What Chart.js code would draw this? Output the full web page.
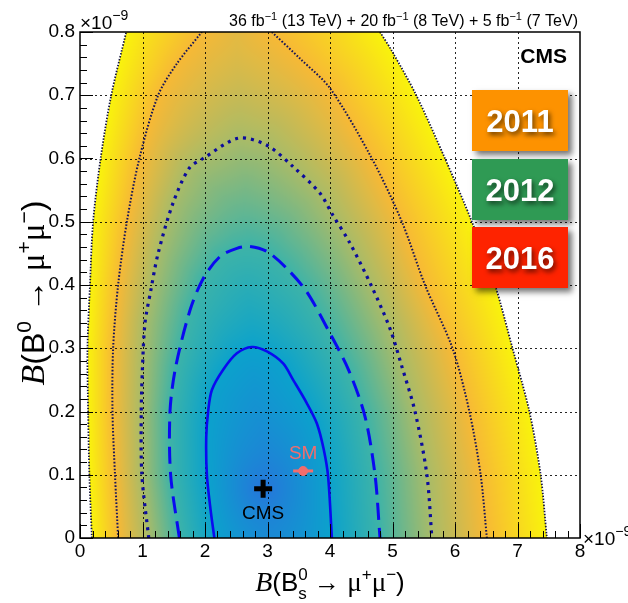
<!DOCTYPE html>
<html>
<head>
<meta charset="utf-8">
<script src="https://cdn.jsdelivr.net/npm/chart.js@4.4.1/dist/chart.umd.min.js"></script>
<style>
  html, body { margin: 0; padding: 0; background: #fff; }
</style>
</head>
<body>
<canvas id="chart" width="628" height="603"></canvas>
<script>
// Axis ticks (values in units of 1e-9)
const xTickVals = [0, 1, 2, 3, 4, 5, 6, 7, 8];
const xTickLabels = ['0', '1', '2', '3', '4', '5', '6', '7', '8'];
const yTickVals = [0, 0.1, 0.2, 0.3, 0.4, 0.5, 0.6, 0.7, 0.8];
const yTickLabels = ['0', '0.1', '0.2', '0.3', '0.4', '0.5', '0.6', '0.7', '0.8'];

// Likelihood contours, [B(Bs->mumu), B(B0->mumu)]
const solid = [[2.15,0],[2.09,0.044],[2.03,0.1],[2.02,0.16],[2.05,0.2],[2.11,0.234],[2.29,0.266],[2.51,0.292],[2.75,0.302],[2.99,0.295],[3.25,0.276],[3.41,0.25],[3.63,0.213],[3.79,0.181],[3.9,0.14],[3.97,0.097],[4.03,0]];
const dashed = [[1.59,0],[1.45,0.1],[1.44,0.2],[1.53,0.27],[1.76,0.36],[1.97,0.41],[2.24,0.445],[2.51,0.458],[2.72,0.461],[2.99,0.453],[3.31,0.426],[3.63,0.389],[3.97,0.329],[4.3,0.265],[4.56,0.192],[4.72,0.1],[4.8,0]];
const dotted = [[1.1,0],[0.99,0.1],[0.98,0.2],[1.0,0.27],[1.04,0.34],[1.13,0.39],[1.25,0.45],[1.49,0.53],[1.75,0.585],[1.97,0.6],[2.53,0.632],[2.99,0.621],[3.41,0.587],[3.84,0.545],[4.03,0.513],[4.32,0.466],[4.67,0.397],[4.96,0.331],[5.15,0.271],[5.36,0.2],[5.55,0.1],[5.63,0]];
const fineLeft = [[0.61,0],[0.56,0.1],[0.52,0.2],[0.53,0.3],[0.61,0.4],[0.75,0.5],[0.95,0.6],[1.25,0.7],[1.55,0.75],[1.95,0.8]];
const fineRight = [[3.07,0.8],[3.52,0.758],[4.0,0.711],[4.67,0.6],[5.15,0.5],[5.52,0.4],[5.96,0.3],[6.23,0.2],[6.41,0.1],[6.51,0]];
const edgeLeft = [[0.19,0],[0.15,0.1],[0.13,0.2],[0.12,0.3],[0.16,0.4],[0.21,0.5],[0.33,0.6],[0.5,0.7],[0.74,0.8]];
const edgeRight = [[4.8,0.8],[4.99,0.77],[5.38,0.7],[5.84,0.6],[6.27,0.5],[6.64,0.4],[6.92,0.3],[7.19,0.2],[7.37,0.1],[7.47,0]];

// Best fit and Standard Model point
const cmsX = [2.93], cmsY = [0.078];
const smX = [3.57], smY = [0.106], smXErr = [0.16], smYErr = [0.006];

// colour at the minimum, then at each contour going outwards
const levelColors = ['#2675db', '#0ba2cc', '#3db3a8', '#a8bb68', '#f7b935', '#f9f30c'];

const contours = [[solid], [dashed], [dotted], [fineLeft, fineRight], [edgeLeft, edgeRight]];

function segDist(px, py, ax, ay, bx, by) {
    const dx = bx - ax, dy = by - ay;
    let t = ((px - ax) * dx + (py - ay) * dy) / (dx * dx + dy * dy);
    t = Math.max(0, Math.min(1, t));
    const ex = ax + t * dx - px, ey = ay + t * dy - py;
    return Math.sqrt(ex * ex + ey * ey);
}
function lineDist(branches, px, py) {
    let m = 1e9;
    branches.forEach(b => {
        for (let i = 1; i < b.length; i++) m = Math.min(m, segDist(px, py, b[i-1][0], b[i-1][1], b[i][0], b[i][1]));
    });
    return m;
}
function inside(poly, px, py) {
    let c = false;
    for (let i = 0, j = poly.length - 1; i < poly.length; j = i++) {
        const [xi, yi] = poly[i], [xj, yj] = poly[j];
        if ((yi > py) !== (yj > py) && px < (xj - xi) * (py - yi) / (yj - yi) + xi) c = !c;
    }
    return c;
}

// Colour map filling the region between the contours
const heatmap = {
    id: 'heatmap',
    beforeDatasetsDraw(chart) {
        const { ctx, chartArea: a, scales: { x, y } } = chart;
        const toPx = p => [x.getPixelForValue(p[0]), y.getPixelForValue(p[1])];
        const rings = contours.map(c => c.map(b => b.map(toPx)));
        const polys = rings.map(r => [].concat(...r));
        const c0 = toPx([cmsX[0], cmsY[0]]);
        const cols = levelColors.map(h => [1, 3, 5].map(i => parseInt(h.substr(i, 2), 16)));
        const w = Math.round(a.right - a.left), h = Math.round(a.bottom - a.top);
        const off = document.createElement('canvas');
        off.width = w; off.height = h;
        const octx = off.getContext('2d');
        const img = octx.createImageData(w, h);
        for (let j = 0; j < h; j++) {
            for (let i = 0; i < w; i++) {
                const X = a.left + i + 0.5, Y = a.top + j + 0.5;
                let k = 0;
                while (k < polys.length && !inside(polys[k], X, Y)) k++;
                if (k === polys.length) continue;
                let lev;
                const dIn = lineDist(rings[k], X, Y);
                if (k === 0) {
                    const dc = Math.hypot(X - c0[0], Y - c0[1]);
                    lev = dc / (dc + dIn);
                } else {
                    const dOut = lineDist(rings[k-1], X, Y);
                    lev = k + dOut / (dOut + dIn);
                }
                const f = Math.floor(Math.min(lev, 4.999)), t = lev - f;
                const o = (j * w + i) * 4;
                for (let ch = 0; ch < 3; ch++) img.data[o + ch] = cols[f][ch] + (cols[f+1][ch] - cols[f][ch]) * t;
                img.data[o + 3] = 255;
            }
        }
        octx.putImageData(img, 0, 0);
        ctx.drawImage(off, a.left, a.top);

        // dotted grid
        ctx.save();
        ctx.strokeStyle = 'rgba(0,0,0,0.85)';
        ctx.lineWidth = 1;
        ctx.setLineDash([2, 3]);
        ctx.beginPath();
        xTickVals.slice(1, -1).forEach(v => {
            const p = Math.round(x.getPixelForValue(v)) + 0.5;
            ctx.moveTo(p, a.top); ctx.lineTo(p, a.bottom);
        });
        yTickVals.slice(1, -1).forEach(v => {
            const p = Math.round(y.getPixelForValue(v)) + 0.5;
            ctx.moveTo(a.left, p); ctx.lineTo(a.right, p);
        });
        ctx.stroke();
        ctx.restore();
    }
};

function rich(ctx, parts, x, y, align) {
    let w = 0;
    parts.forEach(p => { ctx.font = p[1]; p.w = p[3] ? 0 : ctx.measureText(p[0]).width; w += p.w; });
    let cx = align === 'right' ? x - w : align === 'center' ? x - w / 2 : x;
    parts.forEach(p => { ctx.font = p[1]; ctx.fillText(p[0], cx, y + (p[2] || 0)); cx += p.w; });
}

const SANS = '"Liberation Sans", Arial, sans-serif';
const SERIF = '"Liberation Serif", "Times New Roman", serif';

function axisTitle(sub, size) {
    const s = size, ss = Math.round(size * 0.65), up = -Math.round(size * 0.42);
    const parts = [['B', 'italic ' + (s + 2) + 'px ' + SERIF], ['(B', s + 'px ' + SANS]];
    if (sub) {
        parts.push(['0', ss + 'px ' + SANS, up, true], ['s', ss + 'px ' + SANS, Math.round(size * 0.3)]);
    } else {
        parts.push(['0', ss + 'px ' + SANS, up]);
    }
    parts.push([' \u2192 ', s + 'px ' + SANS], ['\u03bc', (s + 1) + 'px ' + SERIF], ['+', ss + 'px ' + SANS, up],
               ['\u03bc', (s + 1) + 'px ' + SERIF], ['\u2212', ss + 'px ' + SANS, up], [')', s + 'px ' + SANS]);
    return parts;
}

// Frame, inward ticks, labels and the year boxes
const decorations = {
    id: 'decorations',
    afterDraw(chart) {
        const { ctx, chartArea: a, scales: { x, y } } = chart;
        ctx.save();
        ctx.strokeStyle = '#000';
        ctx.lineWidth = 1.5;
        ctx.strokeRect(a.left, a.top, a.right - a.left, a.bottom - a.top);
        ctx.lineWidth = 1;
        ctx.beginPath();
        for (let v = 0; v <= 8.001; v += 0.2) {
            const p = Math.round(x.getPixelForValue(v)) + 0.5;
            const major = Math.abs(v - Math.round(v)) < 1e-6;
            ctx.moveTo(p, a.bottom); ctx.lineTo(p, a.bottom - (major ? 14 : 7));
        }
        for (let v = 0; v <= 0.8001; v += 0.02) {
            const p = Math.round(y.getPixelForValue(v)) + 0.5;
            const major = Math.abs(v * 10 - Math.round(v * 10)) < 1e-6;
            ctx.moveTo(a.left, p); ctx.lineTo(a.left + (major ? 13 : 7), p);
        }
        ctx.stroke();

        ctx.fillStyle = '#000';
        ctx.textBaseline = 'alphabetic';
        // exponents
        rich(ctx, [['\u00d710', '19px ' + SANS], ['\u22129', '14px ' + SANS, -9]], a.left, 29, 'left');
        rich(ctx, [['\u00d710', '19px ' + SANS], ['\u22129', '14px ' + SANS, -9]], a.right + 3, a.bottom + 7, 'left');
        // luminosity
        const sup = ['\u22121', '11px ' + SANS, -6];
        rich(ctx, [['36 fb', '16px ' + SANS], sup, [' (13 TeV) + 20 fb', '16px ' + SANS], sup.slice(),
                   [' (8 TeV) + 5 fb', '16px ' + SANS], sup.slice(), [' (7 TeV)', '16px ' + SANS]], a.right - 2, 26, 'right');
        // CMS label
        ctx.font = 'bold 21px ' + SANS;
        ctx.textAlign = 'right';
        ctx.fillText('CMS', 567, 63);
        ctx.textAlign = 'left';
        // axis titles
        rich(ctx, axisTitle(true, 26), (a.left + a.right) / 2, 591, 'center');
        ctx.save();
        ctx.translate(44, 293);
        ctx.rotate(-Math.PI / 2);
        rich(ctx, axisTitle(false, 32), 0, 0, 'center');
        ctx.restore();
        // point labels
        ctx.textAlign = 'center';
        ctx.font = '19px ' + SANS;
        ctx.fillText('CMS', x.getPixelForValue(cmsX[0]), 519);
        ctx.fillStyle = '#f26d6d';
        ctx.fillText('SM', x.getPixelForValue(smX[0]), 459);

        // year boxes
        const boxes = [['2011', '#fd9200', 90], ['2012', '#2f9a54', 159], ['2016', '#fe2300', 227]];
        boxes.forEach(([txt, col, top]) => {
            ctx.save();
            ctx.shadowColor = 'rgba(0,0,0,0.55)';
            ctx.shadowBlur = 6;
            ctx.shadowOffsetX = 4;
            ctx.shadowOffsetY = 4;
            ctx.fillStyle = col;
            ctx.fillRect(472, top, 96, 61);
            ctx.shadowColor = 'rgba(0,0,0,0.6)';
            ctx.shadowBlur = 5;
            ctx.shadowOffsetX = 2;
            ctx.shadowOffsetY = 3;
            ctx.fillStyle = '#fff';
            ctx.font = 'bold 31px ' + SANS;
            ctx.textAlign = 'center';
            ctx.fillText(txt, 520, top + 42);
            ctx.restore();
        });
        ctx.restore();
    }
};

const toXY = pts => pts.map(p => ({ x: p[0], y: p[1] }));
const contourLine = (pts, color, width, dash) => ({
    type: 'line', data: toXY(pts), borderColor: color, borderWidth: width,
    borderDash: dash, pointRadius: 0, tension: 0.3, fill: false
});

const ctx = document.getElementById('chart').getContext('2d');
new Chart(ctx, {
    type: 'scatter',
    data: {
        datasets: [
            contourLine(edgeLeft, '#18183c', 1.8, [1.5, 1.5]),
            contourLine(edgeRight, '#18183c', 1.8, [1.5, 1.5]),
            contourLine(fineLeft, '#161658', 2, [1.6, 1.8]),
            contourLine(fineRight, '#161658', 2, [1.6, 1.8]),
            contourLine(dotted, '#0c0c9c', 3.2, [3, 5]),
            contourLine(dashed, '#0a0af0', 3, [17, 8]),
            contourLine(solid, '#0a0af0', 2.6, []),
            contourLine([[smX[0] - smXErr[0], smY[0]], [smX[0] + smXErr[0], smY[0]]], '#f26d6d', 3, []),
            contourLine([[smX[0], smY[0] - smYErr[0]], [smX[0], smY[0] + smYErr[0]]], '#f26d6d', 3, []),
            {
                data: toXY([[smX[0], smY[0]]]), pointStyle: 'circle', pointRadius: 4.5,
                backgroundColor: '#f26d6d', borderColor: '#f26d6d'
            },
            {
                data: toXY([[cmsX[0], cmsY[0]]]), pointStyle: 'cross', pointRadius: 9,
                borderColor: '#000', borderWidth: 5
            }
        ]
    },
    options: {
        responsive: false,
        animation: false,
        events: [],
        layout: { padding: { top: 32, right: 48, left: 0, bottom: 0 } },
        plugins: { legend: { display: false }, tooltip: { enabled: false } },
        scales: {
            x: {
                type: 'linear', min: 0, max: 8,
                afterFit: s => { s.height = 65; },
                afterBuildTicks: s => { s.ticks = xTickVals.map(v => ({ value: v })); },
                grid: { display: false, drawTicks: false },
                border: { display: false },
                ticks: {
                    color: '#000', padding: 2, maxRotation: 0, autoSkip: false,
                    font: { family: '"Liberation Sans", Arial, sans-serif', size: 19 },
                    callback: (v, i) => xTickLabels[i]
                }
            },
            y: {
                type: 'linear', min: 0, max: 0.8,
                afterFit: s => { s.width = 80; },
                afterBuildTicks: s => { s.ticks = yTickVals.map(v => ({ value: v })); },
                grid: { display: false, drawTicks: false },
                border: { display: false },
                ticks: {
                    color: '#000', padding: 5, autoSkip: false,
                    font: { family: '"Liberation Sans", Arial, sans-serif', size: 19 },
                    callback: (v, i) => yTickLabels[i]
                }
            }
        }
    },
    plugins: [heatmap, decorations]
});
</script>
</body>
</html>
